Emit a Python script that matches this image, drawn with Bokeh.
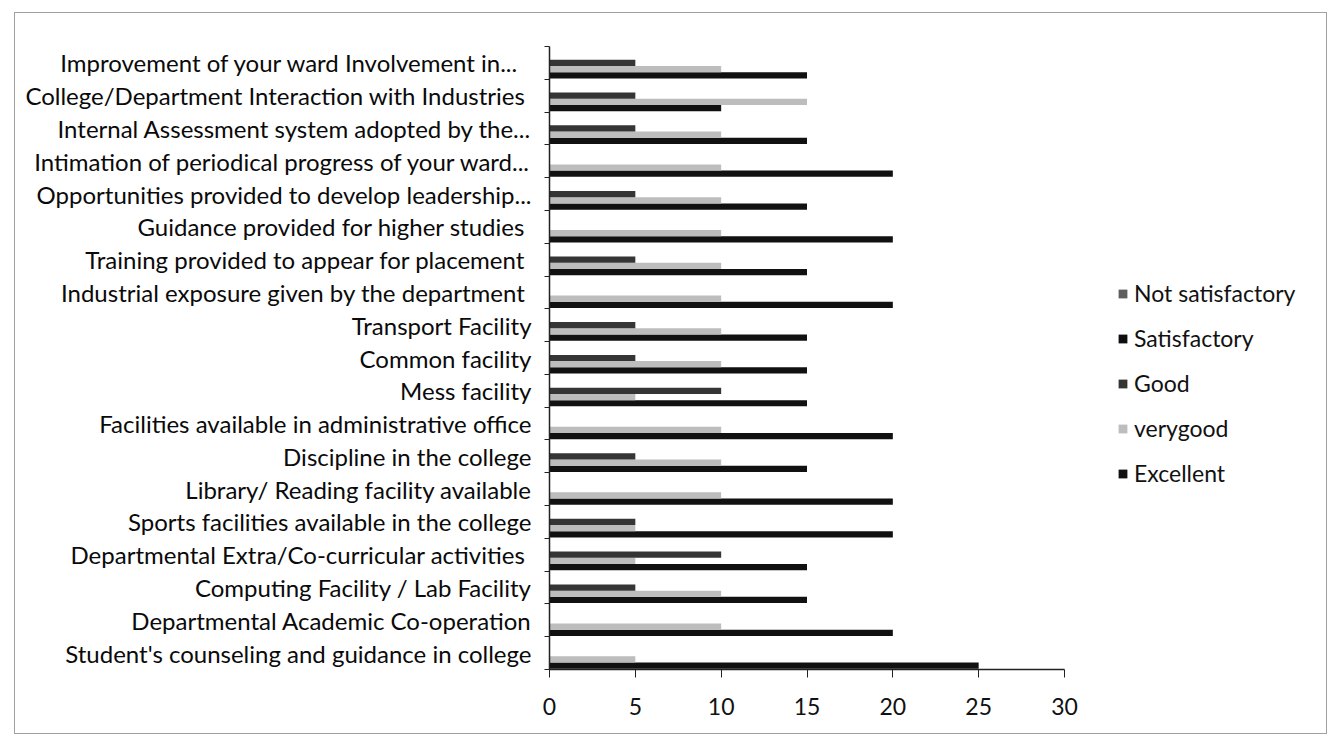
from bokeh.plotting import figure
from bokeh.models import Range1d, FixedTicker, Legend, LegendItem, ColumnDataSource
from bokeh.embed import file_html
from bokeh.resources import INLINE
import numpy as np

categories = [
    "Student's counseling and guidance in college",
    "Departmental Academic Co-operation",
    "Computing Facility / Lab Facility",
    "Departmental Extra/Co-curricular activities ",
    "Sports facilities available in the college",
    "Library/ Reading facility available",
    "Discipline in the college",
    "Facilities available in administrative office",
    "Mess facility",
    "Common facility",
    "Transport Facility",
    "Industrial exposure given by the department ",
    "Training provided to appear for placement ",
    "Guidance provided for higher studies ",
    "Opportunities provided to develop leadership...",
    "Intimation of periodical progress of your ward...",
    "Internal Assessment system adopted by the...",
    "College/Department Interaction with Industries ",
    "Improvement  of your  ward Involvement in...",
]
excellent = [25, 20, 15, 15, 20, 20, 15, 20, 15, 15, 15, 20, 15, 20, 15, 20, 15, 10, 15]
verygood = [5, 10, 10, 5, 5, 10, 10, 10, 5, 10, 10, 10, 10, 10, 10, 10, 10, 15, 10]
good = [0, 0, 5, 10, 5, 0, 5, 0, 10, 5, 5, 0, 5, 0, 5, 0, 5, 5, 5]
satisfactory = [0] * 19
not_satisfactory = [0] * 19
x_ticks = [0, 5, 10, 15, 20, 25, 30]

series = [
    ("Excellent", excellent, "#111111"),
    ("verygood", verygood, "#bdbdbd"),
    ("Good", good, "#353535"),
    ("Satisfactory", satisfactory, "#0e0e0e"),
    ("Not satisfactory", not_satisfactory, "#5e5e5e"),
]

FONT = "Lato"
n = len(categories)
W, H = 1313, 722
LEFT, RIGHT, TOP, BOTTOM = 534, 10, 33, 66
frame_w = W - LEFT - RIGHT
axis_w = 515  # pixel length of the 0..30 value axis
x_end = 30 * frame_w / axis_w  # extra room on the right holds the legend

p = figure(width=W, height=H, output_backend="svg", toolbar_location=None,
           x_range=Range1d(0, x_end), y_range=Range1d(-0.5, n - 0.5),
           min_border_left=LEFT, min_border_right=RIGHT, min_border_top=TOP, min_border_bottom=BOTTOM)
p.outline_line_color = None
p.xgrid.visible = False
p.ygrid.visible = False
p.styles = {"border": "1px solid #a0a0a0", "margin-left": "14px", "margin-top": "12px"}

bh = 0.19
offsets = [-2 * bh, -bh, 0, bh, 2 * bh]
renderers = {}
for (name, vals, col), off in zip(series, offsets):
    src = ColumnDataSource(dict(y=np.arange(n) + off, v=vals))
    r = p.hbar(y="y", right="v", left=0, height=bh, source=src, fill_color=col, line_color=None)
    renderers[name] = r

legend_order = ["Not satisfactory", "Satisfactory", "Good", "verygood", "Excellent"]
legend = Legend(items=[LegendItem(label=nm, renderers=[renderers[nm]]) for nm in legend_order],
                location=(568, 182), label_text_font=FONT, label_text_font_size="23px",
                label_text_color="#111111", glyph_width=11, glyph_height=11, spacing=17,
                border_line_color=None, background_fill_alpha=0, label_standoff=6,
                padding=2, margin=0, label_height=28)
p.add_layout(legend, "center")

# x axis
p.xaxis.ticker = FixedTicker(ticks=x_ticks)
p.xaxis.bounds = (x_ticks[0], x_ticks[-1])
p.xaxis.axis_line_color = "#222222"
p.xaxis.axis_line_width = 1.5
p.xaxis.major_tick_line_color = "#222222"
p.xaxis.major_tick_out = 8
p.xaxis.major_tick_in = 0
p.xaxis.minor_tick_line_color = None
p.xaxis.major_label_text_font = FONT
p.xaxis.major_label_text_font_size = "23px"
p.xaxis.major_label_text_color = "#111111"
p.xaxis.major_label_standoff = 20

# y axis
p.yaxis.ticker = FixedTicker(ticks=list(range(n)), minor_ticks=[i - 0.5 for i in range(n + 1)])
p.yaxis.major_label_overrides = {i: c for i, c in enumerate(categories)}
p.yaxis.major_tick_line_color = None
p.yaxis.minor_tick_line_color = "#222222"
p.yaxis.minor_tick_out = 5
p.yaxis.minor_tick_in = 0
p.yaxis.axis_line_color = "#222222"
p.yaxis.axis_line_width = 1.5
p.yaxis.major_label_text_font = FONT
p.yaxis.major_label_text_font_size = "24px"
p.yaxis.major_label_text_color = "#0a0a0a"
p.yaxis.major_label_standoff = 12

open("out.html", "w").write(file_html(p, INLINE))
